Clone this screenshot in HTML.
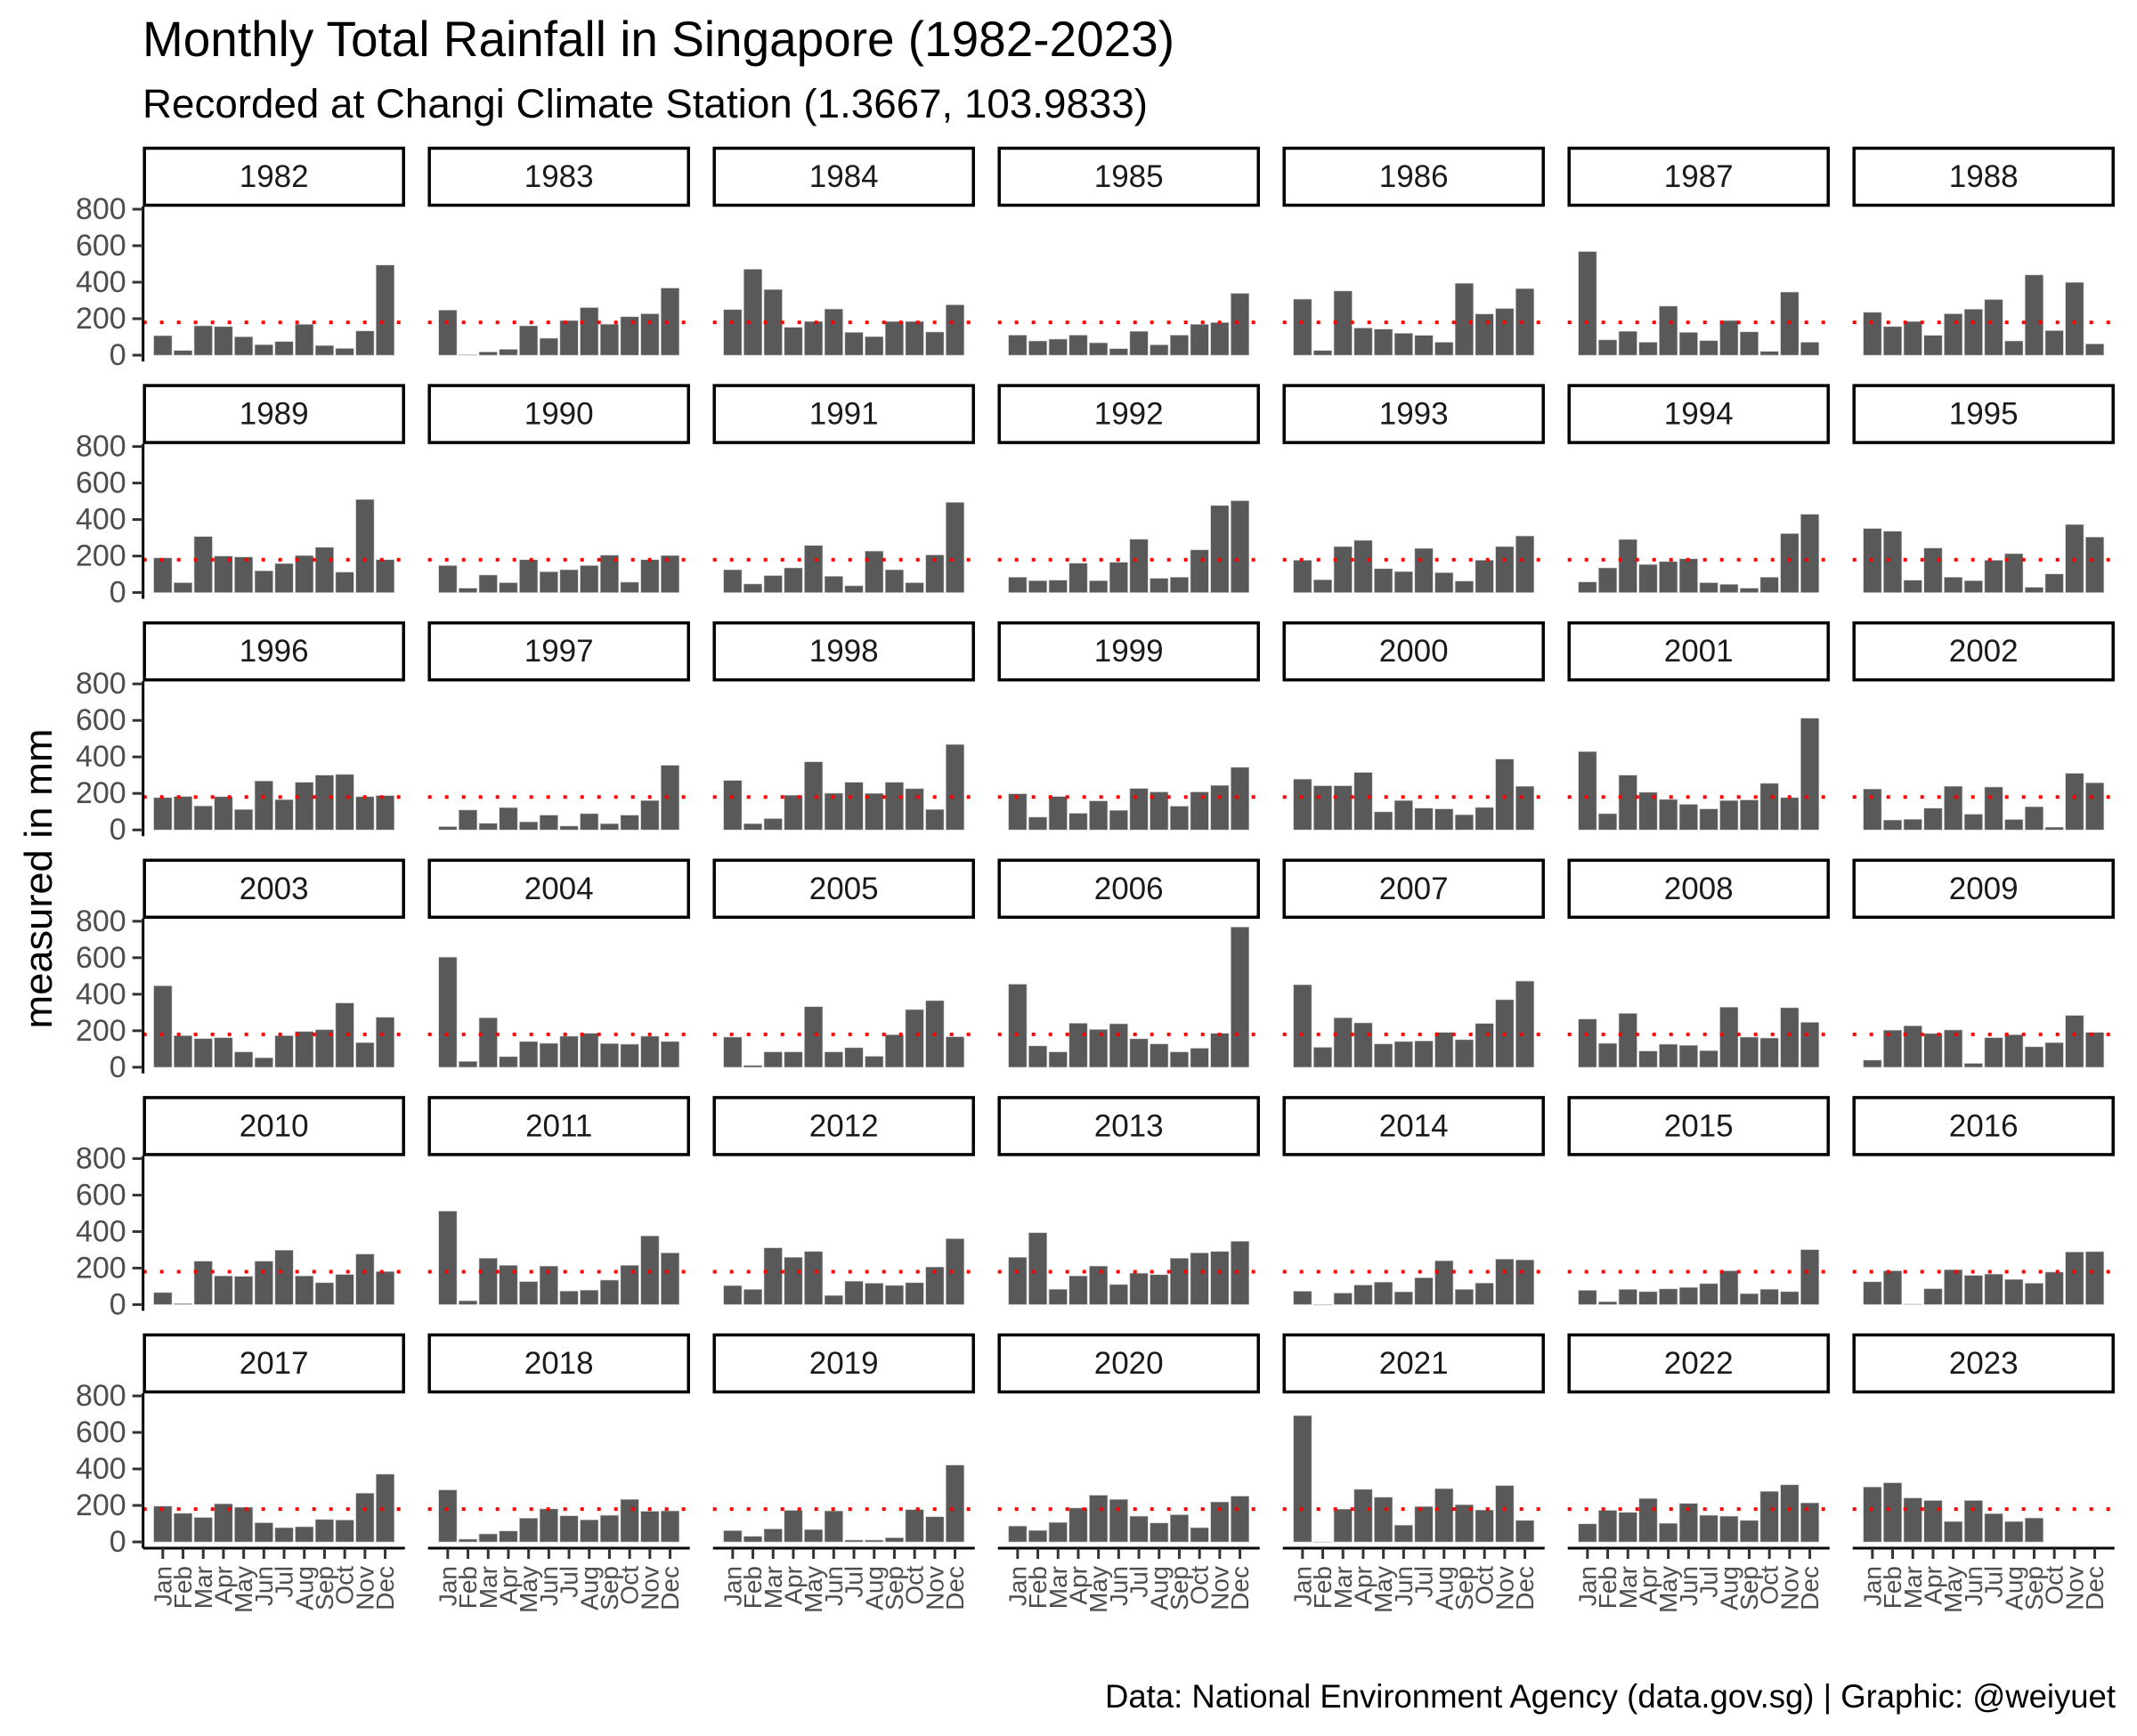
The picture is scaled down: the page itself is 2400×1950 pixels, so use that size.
<!DOCTYPE html>
<html><head><meta charset="utf-8"><style>
html,body{margin:0;padding:0;background:#fff;}
svg{display:block;font-family:"Liberation Sans",Arial,sans-serif;}
</style></head><body>
<svg id="chart" width="2400" height="1950" viewBox="0 0 2400 1950" xmlns="http://www.w3.org/2000/svg">
<rect width="2400" height="1950" fill="#fff"/>
<text x="160" y="63" font-size="56" fill="#000" textLength="1159" lengthAdjust="spacingAndGlyphs">Monthly Total Rainfall in Singapore (1982-2023)</text>
<text x="160" y="132" font-size="45" fill="#000" textLength="1129" lengthAdjust="spacingAndGlyphs">Recorded at Changi Climate Station (1.3667, 103.9833)</text>
<text transform="translate(58,987) rotate(-90)" text-anchor="middle" font-size="44" fill="#000" textLength="337" lengthAdjust="spacingAndGlyphs">measured in mm</text>
<text x="2376" y="1918" text-anchor="end" font-size="37" fill="#000" textLength="1135" lengthAdjust="spacingAndGlyphs">Data: National Environment Agency (data.gov.sg) | Graphic: @weiyuet</text>
<g id="panels"></g>
</svg>
<script>
const years = [1982,1983,1984,1985,1986,1987,1988,1989,1990,1991,1992,1993,1994,1995,1996,1997,1998,1999,2000,2001,2002,2003,2004,2005,2006,2007,2008,2009,2010,2011,2012,2013,2014,2015,2016,2017,2018,2019,2020,2021,2022,2023];
const months = ["Jan","Feb","Mar","Apr","May","Jun","Jul","Aug","Sep","Oct","Nov","Dec"];
const yTicks = [0,200,400,600,800];
const meanRainfall = 180;
const rainfall = [
[107,26,161,157,101,58,75,169,53,37,133,494],
[247,3,18,32,161,93,190,261,170,211,227,368],
[250,471,360,153,185,253,125,102,185,185,127,276],
[110,78,88,110,68,36,131,57,110,169,179,339],
[307,26,352,149,143,120,109,71,394,226,256,365],
[568,84,131,71,269,125,80,190,128,21,346,71],
[235,157,185,109,227,252,305,78,440,135,399,62],
[190,54,307,200,195,119,159,203,248,112,510,180],
[148,24,96,54,180,114,125,148,205,57,180,203],
[125,47,93,135,258,89,37,227,125,54,206,494],
[84,65,68,161,65,166,292,78,84,234,477,503],
[177,70,252,286,131,115,242,109,63,177,252,310],
[58,135,291,154,170,185,54,45,24,84,323,429],
[351,336,68,244,84,65,177,213,29,102,373,304],
[177,183,131,182,112,268,166,261,300,304,182,188],
[18,109,36,122,44,81,21,89,34,81,161,354],
[271,34,62,190,373,201,261,200,261,226,112,468],
[198,70,183,91,159,107,227,208,130,208,244,343],
[278,242,242,315,99,161,119,115,83,123,388,239],
[429,89,300,206,167,140,115,161,164,255,177,612],
[224,54,58,119,239,86,235,57,127,15,310,258],
[446,173,157,162,84,52,173,196,206,352,135,274],
[603,32,271,58,141,131,170,186,130,126,170,141],
[165,10,84,84,332,84,107,60,178,316,365,167],
[455,117,84,241,207,238,156,128,84,104,186,768],
[452,109,271,243,128,141,144,191,151,240,370,472],
[264,131,295,89,126,120,91,329,165,160,326,246],
[39,203,227,185,204,21,162,178,112,135,284,191],
[66,5,238,157,155,238,298,157,120,165,277,181],
[512,21,254,215,126,211,74,79,134,215,376,283],
[104,83,311,259,291,50,128,117,105,120,206,361],
[259,394,84,157,211,110,172,164,254,283,291,347],
[73,0,63,107,123,70,147,240,83,118,249,245],
[78,16,83,71,86,94,115,185,60,84,71,301],
[125,185,3,87,191,160,167,138,117,178,288,290],
[196,157,134,209,190,105,78,83,123,120,267,371],
[285,15,44,60,130,181,143,121,146,233,168,170],
[62,31,71,173,68,170,10,10,23,177,138,421],
[87,63,107,186,256,233,141,104,149,78,219,251],
[692,0,180,288,245,92,194,292,204,175,309,118],
[99,173,162,238,102,211,146,141,118,277,313,214],
[301,324,241,227,112,227,155,112,131,null,null,null]
];

const NS = "http://www.w3.org/2000/svg";
const root = document.getElementById("panels");
const NCOL = 7, NROW = 6;
const panelX0 = 160.7, panelPitch = 320, panelW = 294;
const base0 = 399, rowPitch = 266.6, pxPerMm = 0.205;
const step = 22.7, barW = 20.4;
function mk(tag, attrs, parent){
  const e = document.createElementNS(NS, tag);
  for (const k in attrs) e.setAttribute(k, attrs[k]);
  (parent||root).appendChild(e);
  return e;
}
function panelLeft(col){ return panelX0 + col*panelPitch; }
function baseY(row){ return base0 + row*rowPitch; }
function xScale(col, m){ const L = panelLeft(col); return L + (panelW - 11*step)/2 + m*step; }
function yScale(row, v){ return baseY(row) - v*pxPerMm; }

years.forEach((yr, i) => {
  const col = i % NCOL, row = Math.floor(i / NCOL);
  const L = panelLeft(col), B = baseY(row);
  const g = mk("g", {});
  
  
  const strip = mk("rect", {x: L+1.5, y: B-234+1.5, width: panelW-3, height: 67-3, fill: "#fff", stroke: "#000", "stroke-width": 3.5}, g);
  
  
  const st = mk("text", {x: L+panelW/2, y: B-200.5, "text-anchor": "middle", "dominant-baseline": "central", "font-size": 35, fill: "#1a1a1a"}, g);
  st.textContent = yr;
  
  
  rainfall[i].forEach((v, m) => {
    if (v === null) return;
    const cx = xScale(col, m);
    const top = yScale(row, v);
    const r = mk("rect", {x: cx-barW/2, y: top, width: barW, height: Math.max(B-top, 0.5), fill: "#595959", stroke: "#c8c8c8", "stroke-width": 0.6}, g);
    
    
  });
  const ml = mk("line", {x1: L, x2: L+panelW, y1: yScale(row, meanRainfall), y2: yScale(row, meanRainfall), stroke: "#ff0000", "stroke-width": 4, "stroke-dasharray": "4 15"}, g);
  
  

  if (col === 0) {
    const ax = mk("line", {x1: L, x2: L, y1: B-167, y2: B+7, stroke: "#000", "stroke-width": 3}, g);
    
    
    yTicks.forEach(t => {
      const y = yScale(row, t);
      const tk = mk("line", {x1: L-12, x2: L, y1: y, y2: y, stroke: "#333", "stroke-width": 3}, g);
      
      
      const tl = mk("text", {x: L-19, y: y, "text-anchor": "end", "dominant-baseline": "central", "font-size": 34, fill: "#4d4d4d"}, g);
      tl.textContent = t;
      
      
    });
  }
  if (row === NROW-1) {
    const xa = mk("line", {x1: L, x2: L+panelW, y1: B+7, y2: B+7, stroke: "#000", "stroke-width": 3}, g);
    
    
    months.forEach((mn, m) => {
      const cx = xScale(col, m);
      const tk = mk("line", {x1: cx, x2: cx, y1: B+7, y2: B+19, stroke: "#333", "stroke-width": 3}, g);
      
      
      const tl = mk("text", {transform: "translate(" + cx + "," + (B+27) + ") rotate(-90)", "text-anchor": "end", "dominant-baseline": "central", "font-size": 28, fill: "#4d4d4d"}, g);
      tl.textContent = mn;
      
      
    });
  }
});
</script>
</body></html>
